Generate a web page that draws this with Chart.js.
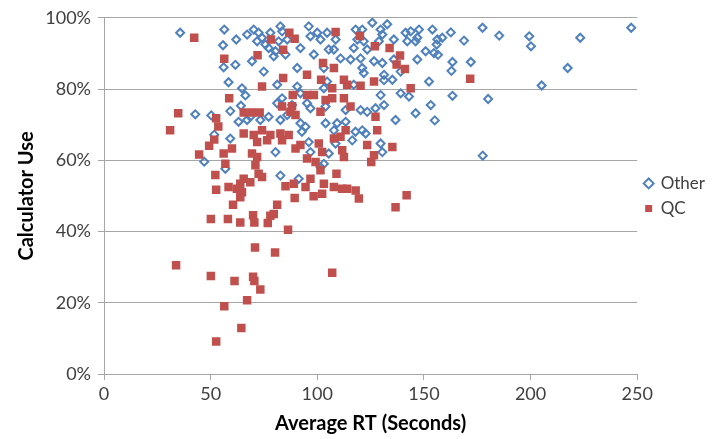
<!DOCTYPE html>
<html>
<head>
<meta charset="utf-8">
<script src="https://cdn.jsdelivr.net/npm/chart.js@4/dist/chart.umd.min.js"></script>
<style>
  html, body { margin: 0; padding: 0; background: #fff; }
  #rtChart { display: block; }
</style>
</head>
<body>
<canvas id="rtChart" width="727" height="439"></canvas>
<script>
/* Average response time vs calculator use, per item */

const seriesNames = ["Other", "QC"];
const xTickValues = [0, 50, 100, 150, 200, 250];
const yTickValues = [0, 20, 40, 60, 80, 100];

// "Other" items: average RT (seconds) and calculator use (%)
const otherRT = [
    35.7, 56.4, 55.8, 56.1, 62.0, 61.6, 58.4, 64.7, 66.3, 67.1, 70.2, 72.5, 74.1, 71.8, 75.7, 78.0,
    77.2, 80.4, 79.6, 82.7, 83.5, 81.9, 85.9, 85.1, 90.6, 92.1, 96.0, 96.8, 98.4, 100.0, 101.5, 103.1,
    69.4, 74.9, 81.2, 90.6, 92.1, 104.6, 83.5,
    104.6, 108.6, 107.8, 118.0, 118.8, 117.1, 121.1, 125.8, 129.7, 132.8, 130.5, 128.9, 123.4, 121.8,
    135.9, 141.4, 143.8, 147.7, 146.9, 142.2, 146.1, 154.0, 115.6, 110.9, 105.4, 120.3, 126.6, 130.5,
    135.9, 146.9, 150.8, 154.7, 121.1, 121.8, 131.3, 135.2, 139.1, 152.4, 117.1, 131.3, 139.1, 143.0,
    129.7, 103.1, 153.2,
    156.3, 158.6, 156.0, 162.6, 168.8, 177.5, 185.3, 199.4, 200.2, 223.3, 247.2, 156.6, 163.4, 162.9,
    172.0, 217.4, 205.2, 163.4, 180.1, 155.1, 177.6,
    42.8, 50.3, 51.7, 47.0,
    59.2, 64.2, 67.1, 63.1, 68.6, 73.3, 77.2, 81.2, 82.7, 85.9, 88.2, 95.2, 96.8, 92.1, 94.5, 92.8,
    59.2, 80.4, 96.8, 56.9, 82.7, 91.3, 96.0, 101.5,
    103.9, 113.3, 120.3, 123.4, 127.3, 131.3, 136.7, 146.1, 103.9, 109.3, 113.3, 107.8, 117.9, 121.1,
    122.7, 116.4, 108.6, 105.4, 129.7, 130.5, 103.1
];
const otherCalc = [
    95.8, 96.7, 92.3, 86.1, 93.9, 86.8, 81.9, 80.2, 78.2, 95.3, 96.7, 95.8, 94.4, 93.4, 92.5, 95.8,
    91.5, 90.6, 89.2, 97.6, 96.2, 93.4, 93.9, 89.7, 85.9, 91.5, 97.6, 94.8, 89.7, 95.8, 93.9, 85.9,
    87.8, 84.9, 81.2, 80.7, 78.8, 82.1, 77.4,
    95.8, 93.9, 91.1, 96.7, 93.9, 91.5, 96.7, 98.6, 96.7, 98.2, 95.3, 93.4, 91.1, 93.4,
    93.9, 95.8, 96.2, 96.7, 94.4, 93.4, 93.4, 96.7, 88.3, 88.6, 91.1, 88.6, 87.8, 87.3,
    88.3, 88.3, 90.6, 90.1, 85.9, 84.5, 84.0, 82.6, 84.9, 82.1, 81.2, 82.5, 78.8, 77.9,
    78.3, 80.2, 75.5,
    93.9, 94.4, 92.5, 95.9, 93.6, 97.2, 95.0, 94.8, 92.0, 94.4, 97.2, 89.6, 87.6, 85.1,
    87.6, 85.9, 81.0, 78.1, 77.2, 71.2, 61.3,
    72.9, 72.6, 67.2, 59.6,
    73.8, 75.3, 71.3, 70.8, 72.2, 71.3, 72.2, 76.0, 71.3, 72.7, 75.5, 76.0, 74.6, 70.4, 69.4, 68.0,
    66.1, 62.3, 62.3, 57.6, 55.7, 54.8, 65.1, 58.1,
    75.1, 74.1, 74.1, 73.6, 74.6, 75.5, 71.3, 73.2, 70.4, 70.4, 70.8, 68.4, 68.0, 68.4,
    67.5, 65.6, 64.7, 61.9, 64.7, 62.3, 59.0
];

// QC items: average RT (seconds) and calculator use (%)
const qcRT = [
    42.3, 34.8, 31.0, 52.6, 53.6, 51.7, 49.3, 44.6, 52.2, 52.6,
    56.4, 78.3, 86.9, 89.4, 84.0, 72.0, 102.7, 84.0, 95.2, 101.8, 74.1, 58.7, 88.5, 95.2, 98.4, 103.9,
    83.5, 88.2,
    108.6, 120.0, 127.0, 133.9, 138.8, 137.2, 141.1, 107.8, 112.5, 114.0, 107.0, 120.3, 126.6, 143.8,
    112.5, 107.0, 115.6, 171.7,
    65.5, 69.4, 73.0, 89.8, 87.4, 101.5, 65.5, 70.2, 74.1, 78.0, 82.7, 86.6, 71.8, 76.5, 83.5, 60.0,
    56.1, 69.4, 71.8, 71.0, 89.8, 92.1, 100.7, 102.3, 99.2, 95.2, 101.5, 56.9, 72.5, 74.1, 65.5, 68.6,
    63.9, 58.4, 62.3, 64.7, 85.1, 89.0, 96.8, 94.5, 103.1, 102.3, 98.3,
    127.3, 113.3, 107.8, 110.9, 128.1, 123.4, 135.2, 111.7, 112.5, 126.6, 125.3, 109.0, 107.8, 111.7,
    114.0, 118.0, 141.9, 119.5,
    63.9, 60.5, 50.1, 58.1, 63.9, 69.9, 70.5, 70.8, 33.8, 50.1, 61.2, 69.9, 70.5,
    89.4, 81.2, 79.6, 78.0, 76.8, 86.3, 80.2, 107.0, 136.7,
    73.3, 67.1, 56.4, 64.4, 52.6
];
const qcCalc = [
    94.4, 73.2, 68.4, 71.8, 69.5, 65.8, 64.1, 61.6, 55.9, 51.7,
    88.5, 93.9, 95.8, 94.1, 91.0, 89.5, 87.3, 83.1, 84.0, 82.6, 80.7, 77.4, 78.3, 78.3, 78.3, 76.9,
    75.1, 75.2,
    96.0, 94.9, 92.0, 91.5, 89.4, 86.9, 85.6, 85.9, 82.6, 81.2, 80.2, 80.9, 82.1, 80.2,
    77.4, 77.4, 75.1, 82.9,
    73.4, 73.4, 73.4, 72.7, 73.6, 73.6, 67.5, 67.1, 68.4, 67.1, 67.5, 67.1, 65.1, 65.6, 65.6, 63.3,
    61.9, 61.9, 60.9, 58.6, 63.3, 64.3, 64.7, 62.3, 59.5, 60.5, 57.2, 59.0, 56.2, 55.3, 54.8, 53.8,
    53.4, 52.5, 52.0, 51.0, 52.7, 53.4, 54.8, 52.5, 53.4, 50.6, 49.9,
    72.2, 68.4, 66.1, 66.6, 68.4, 64.3, 63.7, 62.8, 60.9, 61.4, 59.5, 56.2, 52.5, 52.0,
    52.0, 51.5, 50.2, 49.3,
    49.6, 47.5, 43.5, 43.5, 42.5, 44.6, 42.5, 35.5, 30.5, 27.5, 26.1, 27.3, 26.1,
    49.4, 47.5, 44.9, 44.4, 42.4, 40.5, 34.1, 28.4, 46.8,
    23.7, 20.7, 19.0, 12.9, 9.1
];

const toPoints = (xs, ys) => xs.map((x, i) => ({ x: x, y: ys[i] }));

const fontFamily = "Lato, 'Open Sans', sans-serif";
const gridGrey = "#a6a6a6";

const ctx = document.getElementById("rtChart").getContext("2d");

const chart = new Chart(ctx, {
    type: "scatter",
    data: {
        datasets: [
            {
                label: seriesNames[0],
                data: toPoints(otherRT, otherCalc),
                pointStyle: "rectRot",
                pointRadius: 4,
                pointBorderWidth: 2,
                borderColor: "#4f81bd",
                backgroundColor: "rgba(255,255,255,0)",
                pointBorderColor: "#4f81bd",
                pointBackgroundColor: "rgba(255,255,255,0)",
                order: 1
            },
            {
                label: seriesNames[1],
                data: toPoints(qcRT, qcCalc),
                pointStyle: "rect",
                pointRadius: 6,
                pointBorderWidth: 0,
                borderColor: "#c0504d",
                backgroundColor: "#c0504d",
                pointBorderColor: "#c0504d",
                pointBackgroundColor: "#c0504d",
                order: 0
            }
        ]
    },
    options: {
        responsive: false,
        animation: false,
        events: [],
        layout: { padding: { top: 10, right: 12, bottom: 0, left: 12 } },
        plugins: {
            tooltip: { enabled: false },
            legend: {
                position: "right",
                fullSize: false,
                labels: {
                    usePointStyle: true,
                    boxWidth: 7,
                    boxHeight: 7,
                    padding: 8,
                    color: "#404040",
                    font: { family: fontFamily, size: 17 },
                    sort: (a, b) => a.datasetIndex - b.datasetIndex
                }
            }
        },
        scales: {
            x: {
                type: "linear",
                min: 0,
                max: 250,
                afterBuildTicks: (scale) => {
                    scale.ticks = xTickValues.map(v => ({ value: v }));
                },
                afterFit: (scale) => { scale.height = 65; },
                ticks: {
                    color: "#404040",
                    padding: 3,
                    font: { family: fontFamily, size: 18 }
                },
                grid: { drawOnChartArea: false, drawTicks: true, tickLength: 6, color: gridGrey },
                border: { color: gridGrey, width: 1 },
                title: {
                    display: true,
                    text: "Average RT (Seconds)",
                    color: "#000",
                    padding: { top: 2, bottom: 3 },
                    font: { family: fontFamily, size: 20, weight: "bold" }
                }
            },
            y: {
                type: "linear",
                min: 0,
                max: 100,
                afterBuildTicks: (scale) => {
                    scale.ticks = yTickValues.map(v => ({ value: v }));
                },
                afterFit: (scale) => { scale.width = 92; },
                ticks: {
                    color: "#404040",
                    padding: 7,
                    font: { family: fontFamily, size: 18 },
                    callback: (v) => v + "%"
                },
                grid: { color: gridGrey, tickLength: 6 },
                border: { color: gridGrey, width: 1 },
                title: {
                    display: true,
                    text: "Calculator Use",
                    color: "#000",
                    padding: { top: 3, bottom: 4 },
                    font: { family: fontFamily, size: 20, weight: "bold" }
                }
            }
        }
    }
});
</script>
</body>
</html>
